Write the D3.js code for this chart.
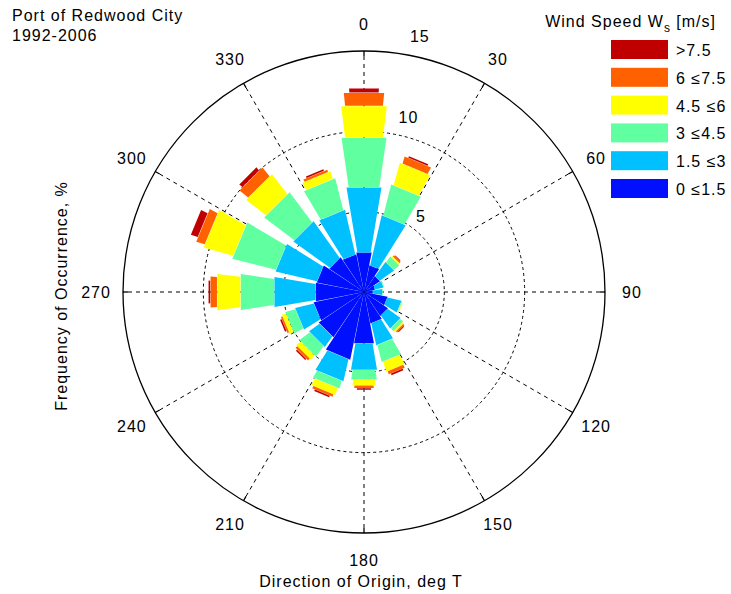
<!DOCTYPE html>
<html>
<head>
<meta charset="utf-8">
<script src="https://cdn.jsdelivr.net/npm/d3@7"></script>
<style>
body { margin: 0; background: #fff; }
text { font-family: "Liberation Sans", Arial, sans-serif; font-size: 16px; letter-spacing: 1px; fill: #000; }
</style>
</head>
<body>
<svg id="chart" width="731" height="594"></svg>
<script>
// direction of origin (deg T), one bar per sector
let directions = [0, 22.5, 45, 67.5, 90, 112.5, 135, 157.5, 180, 202.5, 225, 247.5, 270, 292.5, 315, 337.5];

// frequency of occurrence (%) per speed class, one value per direction
let ws0to15  = [2.5, 1.7, 1.2, 0.7, 0.55, 1.5, 1.8, 2.0, 3.25, 4.3, 3.4, 3.2, 3.05, 3.0, 2.6, 2.4];
let ws15to3  = [4.1, 3.2, 1.1, 0.55, 0.6, 0.9, 1.0, 1.4, 1.65, 1.4, 0.8, 1.2, 2.6, 2.65, 2.8, 2.85];
let ws3to45  = [3.1, 2.0, 0.45, 0.05, 0.05, 0.05, 0.25, 1.1, 0.6, 0.5, 0.8, 0.65, 2.1, 2.8, 2.35, 2.05];
let ws45to6  = [1.95, 1.45, 0.1, 0, 0, 0.05, 0.1, 0.65, 0.35, 0.45, 0.35, 0.25, 1.45, 1.9, 1.55, 0.5];
let ws6to75  = [0.8, 0.45, 0.1, 0, 0, 0, 0.1, 0.2, 0.15, 0.15, 0.15, 0.1, 0.4, 0.55, 0.7, 0.15];
let wsOver75 = [0.25, 0.1, 0.05, 0, 0, 0, 0.05, 0.1, 0.1, 0.1, 0.1, 0.1, 0.1, 0.45, 0.25, 0.1];

let binLabels = ['0 \u22641.5', '1.5 \u22643', '3 \u22644.5', '4.5 \u22646', '6 \u22647.5', '>7.5'];
let binColors = ['#0010ff', '#00c0ff', '#60ffa0', '#ffff00', '#ff6000', '#c00000'];

let angleTicks = [0, 30, 60, 90, 120, 150, 180, 210, 240, 270, 300, 330];
let ringTicks = [5, 10, 15];

let series = [ws0to15, ws15to3, ws3to45, ws45to6, ws6to75, wsOver75];
let keys = d3.range(series.length);
let table = directions.map((d, i) => {
    let row = { dir: d };
    keys.forEach(k => row[k] = series[k][i]);
    return row;
});
let stacked = d3.stack().keys(keys)(table);

let cx = 364, cy = 292, R = 241;
let halfWidth = [11, 9.5, 8.3, 7, 5.8, 4.2]; // deg, narrower toward the tip

let rScale = d3.scaleLinear().domain([0, 15]).range([0, R]);
let aScale = d3.scaleLinear().domain([0, 360]).range([0, 2 * Math.PI]);

let svg = d3.select('#chart');
let g = svg.append('g').attr('transform', `translate(${cx},${cy})`);

// grid: spokes and dashed rings
let grid = g.append('g').attr('stroke', '#000').attr('fill', 'none');
angleTicks.forEach(a => {
    let t = aScale(a);
    grid.append('line')
        .attr('x1', 0).attr('y1', 0)
        .attr('x2', R * Math.sin(t)).attr('y2', -R * Math.cos(t))
        .attr('stroke-width', 1)
        .attr('stroke-dasharray', '4,4');
});
ringTicks.slice(0, -1).forEach(v => {
    grid.append('circle')
        .attr('r', rScale(v))
        .attr('stroke-width', 1)
        .attr('stroke-dasharray', '3,3');
});

// bars
let seg = d3.lineRadial()
    .angle(p => p[0])
    .radius(p => p[1])
    .curve(d3.curveLinearClosed);

let bars = g.append('g');
stacked.forEach((layer, k) => {
    bars.selectAll(null)
        .data(layer.filter(d => d[1] - d[0] > 0))
        .join('path')
        .attr('fill', binColors[k])
        .attr('d', d => {
            let a = d.data.dir, h = halfWidth[k];
            let r0 = rScale(d[0]), r1 = rScale(d[1]);
            return seg([
                [aScale(a - h), r0], [aScale(a + h), r0],
                [aScale(a + h), r1], [aScale(a - h), r1]
            ]);
        });
});

// outer circle and ticks
g.append('circle')
    .attr('r', rScale(15))
    .attr('fill', 'none')
    .attr('stroke', '#000')
    .attr('stroke-width', 1.3);
angleTicks.forEach(a => {
    let t = aScale(a);
    g.append('line')
        .attr('x1', (R - 5) * Math.sin(t)).attr('y1', -(R - 5) * Math.cos(t))
        .attr('x2', R * Math.sin(t)).attr('y2', -R * Math.cos(t))
        .attr('stroke', '#000')
        .attr('stroke-width', 1.3);
});

// angle labels
angleTicks.forEach(a => {
    let t = aScale(a);
    g.append('text')
        .attr('x', 268 * Math.sin(t))
        .attr('y', -268 * Math.cos(t))
        .attr('text-anchor', 'middle')
        .attr('dominant-baseline', 'central')
        .text(a);
});

// ring labels
let ringLabelAt = [[5.9, 37], [11.2, 14.3], [16.3, 12.3]];
ringTicks.forEach((v, i) => {
    let t = aScale(ringLabelAt[i][1]), r = rScale(ringLabelAt[i][0]);
    g.append('text')
        .attr('x', r * Math.sin(t))
        .attr('y', -r * Math.cos(t))
        .attr('text-anchor', 'middle')
        .attr('dominant-baseline', 'central')
        .text(v);
});

// titles
svg.append('text').attr('x', 12).attr('y', 21).text('Port of Redwood City');
svg.append('text').attr('x', 12).attr('y', 41).text('1992-2006');

svg.append('text')
    .attr('x', 361).attr('y', 587)
    .attr('text-anchor', 'middle')
    .text('Direction of Origin, deg T');

svg.append('text')
    .attr('transform', 'translate(67,296) rotate(-90)')
    .attr('text-anchor', 'middle')
    .text('Frequency of Occurrence, %');

// legend
let legTitle = svg.append('text')
    .attr('x', 716).attr('y', 27)
    .attr('text-anchor', 'end');
legTitle.append('tspan').text('Wind Speed W');
legTitle.append('tspan').attr('dy', 5).attr('font-size', '12px').text('s');
legTitle.append('tspan').attr('dy', -5).text(' [m/s]');

let legend = svg.append('g').attr('transform', 'translate(611,40)');
let order = keys.slice().reverse();
order.forEach((k, i) => {
    legend.append('rect')
        .attr('x', 0).attr('y', i * 27.8)
        .attr('width', 57).attr('height', 19)
        .attr('fill', binColors[k]);
    legend.append('text')
        .attr('x', 65).attr('y', i * 27.8 + 10.5)
        .attr('dominant-baseline', 'central')
        .text(binLabels[k]);
});
</script>
</body>
</html>
